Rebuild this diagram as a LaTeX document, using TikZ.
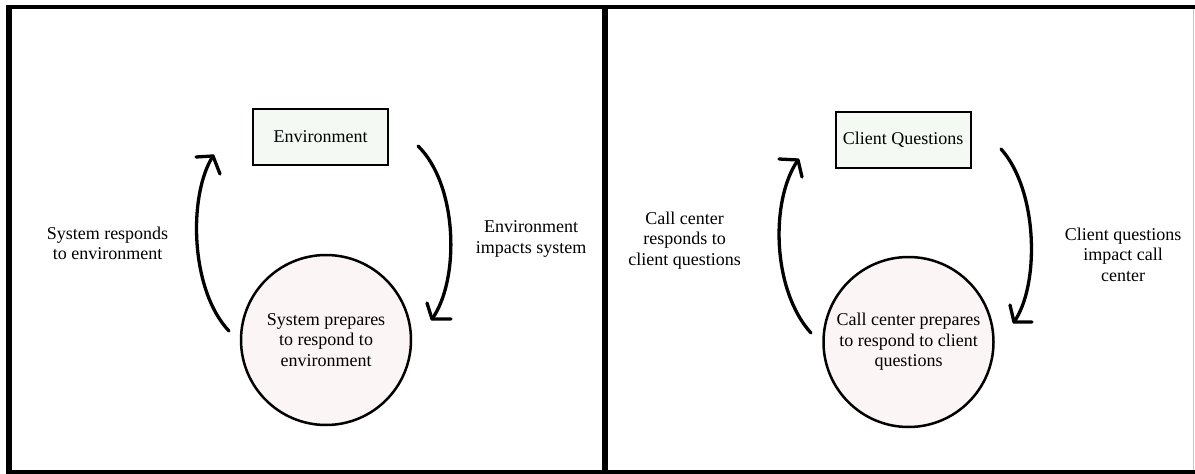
\documentclass[tikz,border=0pt]{standalone}
\usepackage{fontspec}
\setmainfont{Liberation Serif}
\begin{document}
\begin{tikzpicture}[x=1pt,y=-1pt,
  lbl/.style={align=center,font=\fontsize{18}{20.5}\selectfont,inner sep=0pt},
  envbox/.style={draw=black,line width=2pt,fill=boxfill,minimum width=135pt,minimum height=56pt,inner sep=0pt,font=\fontsize{18}{20.5}\selectfont},
  sysnode/.style={circle,draw=black,line width=2.5pt,fill=circfill,minimum size=170pt,inner sep=0pt,align=center,font=\fontsize{18}{20.5}\selectfont},
  flow/.style={line width=3.3pt,line cap=round,line join=round},
  frame/.style={line width=#1,black}
]
\definecolor{boxfill}{HTML}{F4FAF3}
\definecolor{circfill}{HTML}{FCF5F5}
\useasboundingbox (0,0) rectangle (1195,474);
\fill[white] (0,0) rectangle (1195,474);

% frame
\draw[frame=4.5pt] (6,7) -- (1195,7);
\draw[frame=6pt] (9.3,5) -- (9.3,474);
\draw[frame=6pt] (605,5) -- (605,474);
\draw[frame=3.5pt] (6,472) -- (1195,472);
\draw[line width=1.2pt,gray!45] (1193.5,9) -- (1193.5,470);

% ---------- left panel ----------
\node[envbox] (env) at (320.5,137) {Environment};
\node[sysnode] (sys) at (326,340) {System prepares\\to respond to\\environment};
\node[lbl] (resp) at (107.5,243.5) {System responds\\to environment};
\node[lbl] (imp) at (531,239) {Environment\\impacts system};

\coordinate (la0) at (229,331);
\coordinate (la1) at (213,156);
\coordinate (ra0) at (418,146);
\coordinate (ra1) at (432,319);
\draw[flow] (la0) .. controls (190,290) and (188,195) .. (la1);
\draw[flow] (196,157) -- (la1) -- (220,174);
\draw[flow] (ra0) .. controls (458,185) and (460,280) .. (ra1);
\draw[flow] (427,303) -- (ra1) -- (451,319);

% ---------- right panel ----------
\node[envbox] (cq) at (903,140) {Client Questions};
\node[sysnode] (cc) at (908.5,342) {Call center prepares\\to respond to client\\questions};
\node[lbl] (ccr) at (684.6,240.5) {Call center\\responds to\\client questions};
\node[lbl] (cqi) at (1123,254.5) {Client questions\\impact call\\center};

\coordinate (lb0) at (811,333);
\coordinate (lb1) at (798,160);
\coordinate (rb0) at (1001,149);
\coordinate (rb1) at (1014,322);
\draw[flow] (lb0) .. controls (772,290) and (770,200) .. (lb1);
\draw[flow] (779,159) -- (lb1) -- (802,177);
\draw[flow] (rb0) .. controls (1038,190) and (1040,285) .. (rb1);
\draw[flow] (1010,305) -- (rb1) -- (1032,322);
\end{tikzpicture}
\end{document}
